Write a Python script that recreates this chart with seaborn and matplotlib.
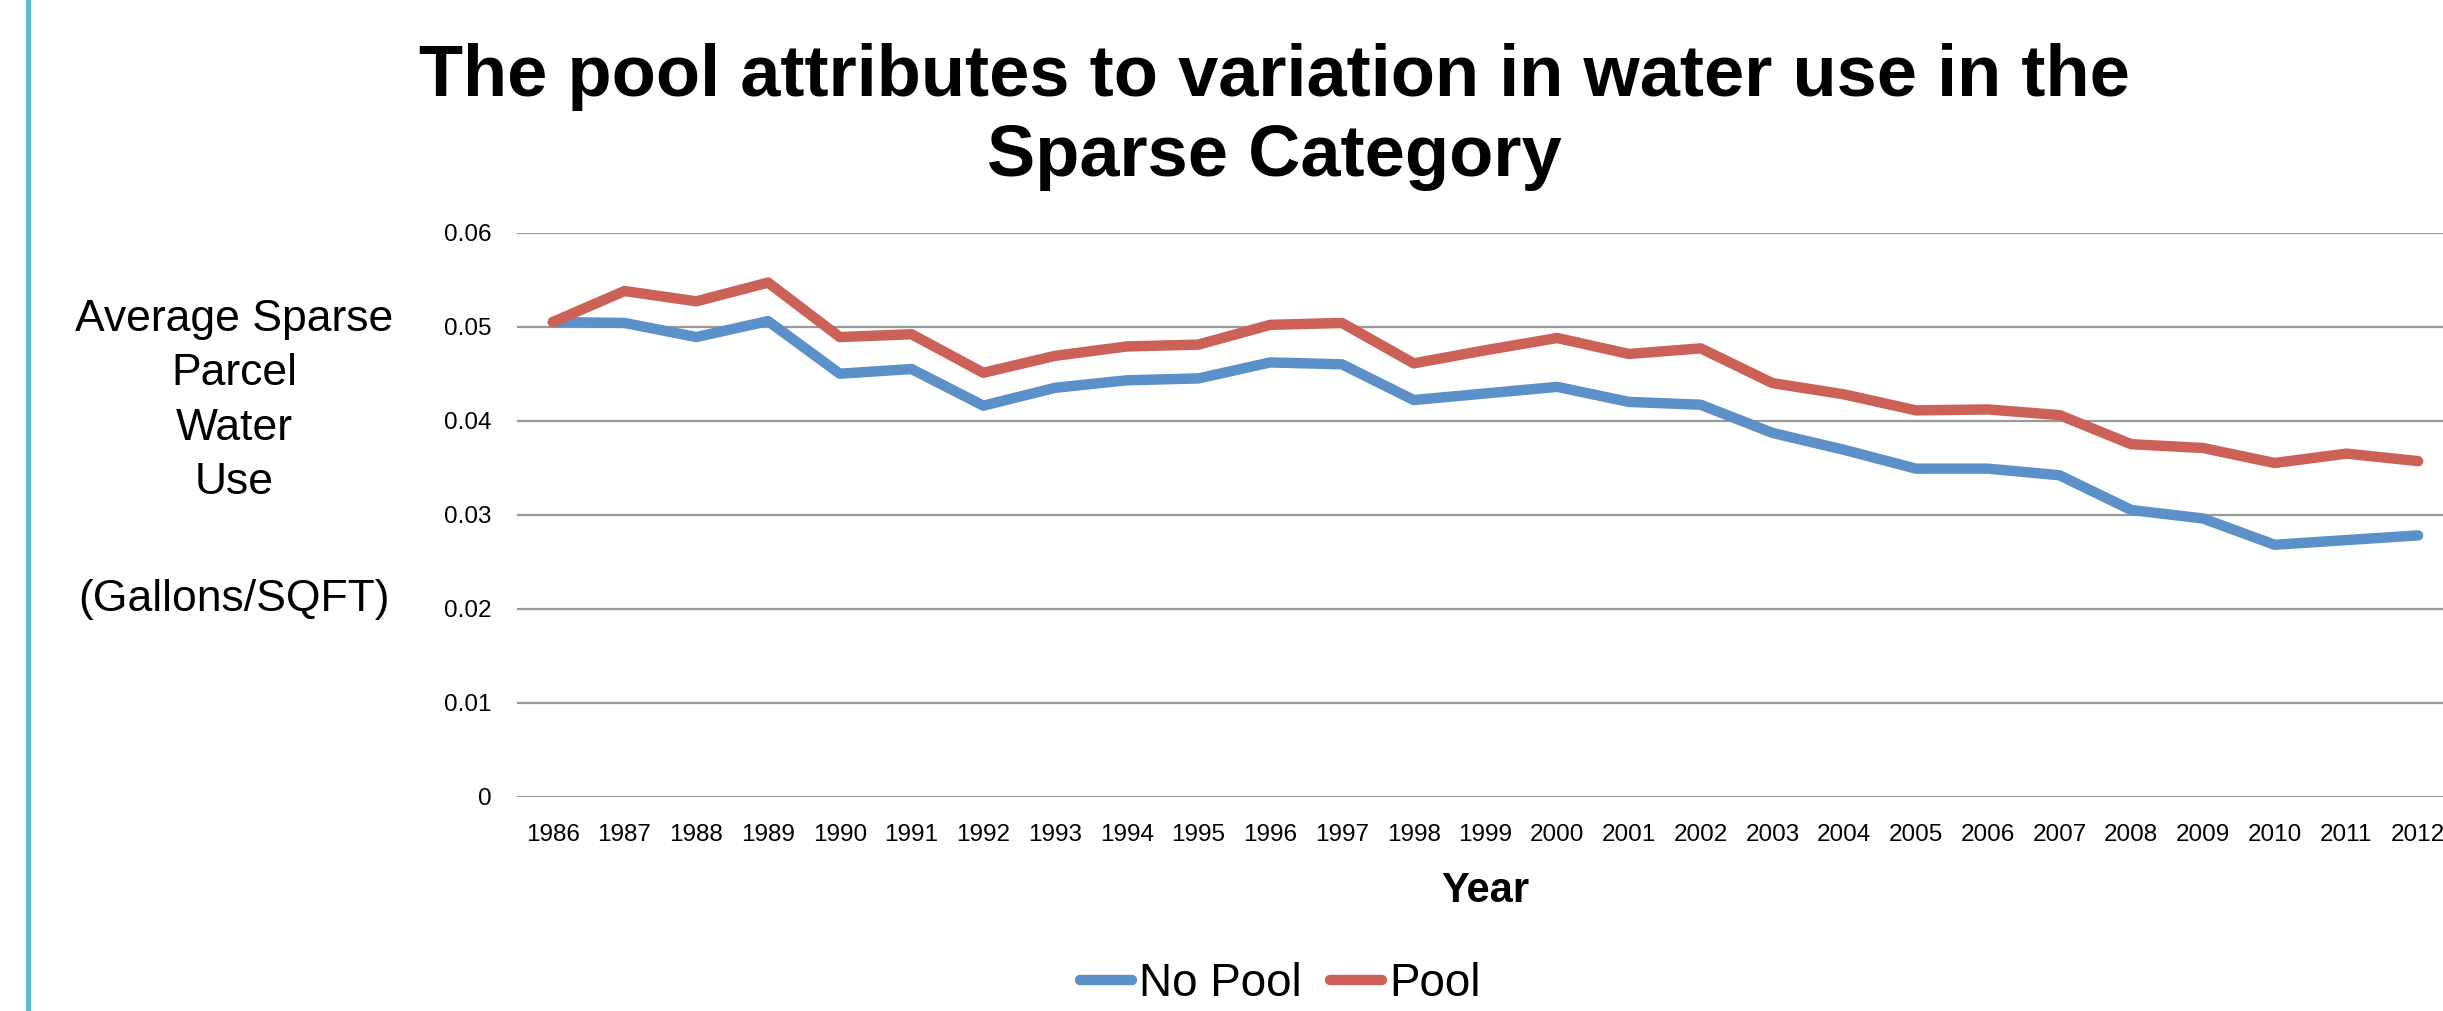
import pandas as pd
import matplotlib
import matplotlib.pyplot as plt
import seaborn as sns

matplotlib.use('Agg')

# data
years = list(range(1986, 2013))
no_pool = [0.0505, 0.0504, 0.0489, 0.0506, 0.0450, 0.0455, 0.0416, 0.0435, 0.0443, 0.0445,
           0.0462, 0.0460, 0.0422, 0.0429, 0.0436, 0.0420, 0.0417, 0.0387, 0.0369, 0.0349,
           0.0349, 0.0342, 0.0305, 0.0296, 0.0268, 0.0273, 0.0278]
pool = [0.0505, 0.0538, 0.0527, 0.0547, 0.0489, 0.0492, 0.0451, 0.0469, 0.0479, 0.0481,
        0.0502, 0.0504, 0.0461, 0.0475, 0.0488, 0.0471, 0.0477, 0.0440, 0.0428, 0.0411,
        0.0412, 0.0406, 0.0375, 0.0371, 0.0355, 0.0365, 0.0357]
series_names = ["No Pool", "Pool"]
y_ticks = [0, 0.01, 0.02, 0.03, 0.04, 0.05, 0.06]
y_tick_labels = ["0", "0.01", "0.02", "0.03", "0.04", "0.05", "0.06"]

df = pd.DataFrame({
    "idx": list(range(len(years))) * 2,
    "value": no_pool + pool,
    "series": [series_names[0]] * len(years) + [series_names[1]] * len(years),
})

sns.set_style("white")
plt.rcParams['font.family'] = ['Liberation Sans', 'DejaVu Sans']
plt.rcParams['text.color'] = 'black'
plt.rcParams['axes.labelcolor'] = 'black'
plt.rcParams['xtick.color'] = 'black'
plt.rcParams['ytick.color'] = 'black'

fig = plt.figure(figsize=(24.43, 10.11), dpi=100)
ax = fig.add_axes([0.2116, 0.2120, 0.7929, 0.5578])

palette = {"No Pool": "#5B90C8", "Pool": "#CC6158"}
sns.lineplot(data=df, x="idx", y="value", hue="series", palette=palette,
             linewidth=7.5, ax=ax, legend=False, solid_capstyle='round')

ax.set_xlim(-0.5, len(years) - 0.5)
ax.set_ylim(0, 0.06)
ax.set_yticks(y_ticks)
ax.set_yticklabels(y_tick_labels, fontsize=17.5)
ax.set_xticks(range(len(years)))
ax.set_xticklabels([str(y) for y in years], fontsize=17.5)
ax.tick_params(axis='both', length=0)
ax.tick_params(axis='x', pad=20)
ax.tick_params(axis='y', pad=18)
ax.grid(axis='y', color='#9a9a9a', linewidth=1.6)
ax.grid(axis='x', visible=False)
ax.set_axisbelow(True)
for s in ax.spines.values():
    s.set_visible(False)
ax.set_ylabel("")
ax.set_xlabel("Year", fontsize=30, fontweight='bold', labelpad=18)

fig.text(0.5215, 0.884, "The pool attributes to variation in water use in the\nSparse Category",
         ha='center', va='center', fontsize=52, fontweight='bold', linespacing=1.22)

# y label block, units line placed on its own
fig.text(0.0958, 0.6035, "Average Sparse\nParcel\nWater\nUse",
         ha='center', va='center', fontsize=32, linespacing=1.42)
fig.text(0.0958, 0.4075, "(Gallons/SQFT)", ha='center', va='center', fontsize=32)

# left border bar
fig.add_artist(plt.Line2D([0.0115, 0.0115], [0, 1], transform=fig.transFigure,
                          color='#5BB8D6', linewidth=3.6))

handles = [plt.Line2D([], [], color=palette[n], linewidth=7.5, solid_capstyle='round')
           for n in series_names]
fig.legend(handles, series_names, loc='center', bbox_to_anchor=(0.524, 0.027),
           ncol=2, frameon=False, handlelength=1.15, handletextpad=0.15,
           columnspacing=0.6, prop={'size': 33})

plt.savefig("out.png", dpi=100)
plt.close()
